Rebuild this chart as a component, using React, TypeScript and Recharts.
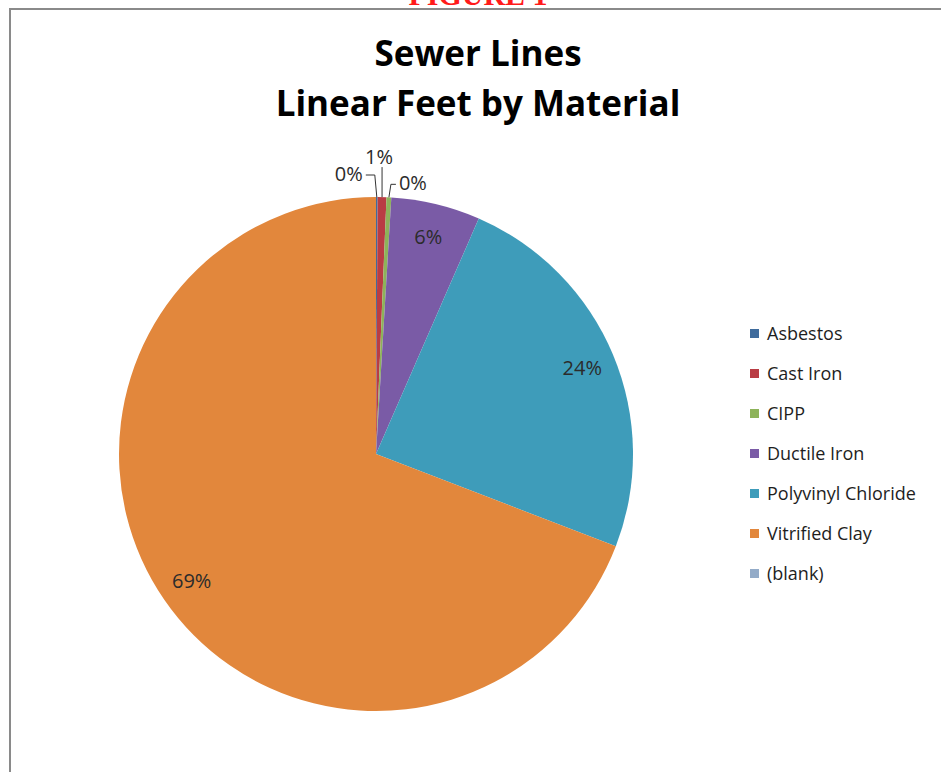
import React from "react";
import { PieChart, Pie, Cell, Legend } from "recharts";

// share of total linear feet, in percent
const materials = [
  "Asbestos",
  "Cast Iron",
  "CIPP",
  "Ductile Iron",
  "Polyvinyl Chloride",
  "Vitrified Clay",
  "(blank)",
];
const shares = [0.1, 0.55, 0.3, 5.6, 24.3, 69.15, 0];
const colors = ["#3f6b9c", "#b93c44", "#8db35a", "#7a5ba6", "#3e9cba", "#e2873c", "#93abc8"];

const data = materials.map((name, i) => ({ name, value: shares[i] }));

const RAD = Math.PI / 180;
const FONT = "'Open Sans', 'Noto Sans', sans-serif";

// tiny slices get an elbow leader out of the top of the pie
const leaderStyle: Record<number, { rise: number; side: number; run: number }> = {
  0: { rise: 22, side: -1, run: 9 },
  1: { rise: 30, side: 0, run: 0 },
  2: { rise: 13, side: 1, run: 5 },
};

function renderLabel(props: any) {
  const { cx, cy, midAngle, outerRadius, percent, index } = props;
  if (materials[index] === "(blank)") return null;
  const text = `${Math.round(percent * 100)}%`;
  const cos = Math.cos(-midAngle * RAD);
  const sin = Math.sin(-midAngle * RAD);
  if (percent >= 0.02) {
    const r = outerRadius * 0.87;
    return (
      <text
        x={cx + r * cos}
        y={cy + r * sin}
        textAnchor="middle"
        dominantBaseline="central"
        fill="#2b2b2b"
        fontSize={20}
        fontFamily={FONT}
      >
        {text}
      </text>
    );
  }
  const s = leaderStyle[index] ?? { rise: 20, side: 1, run: 8 };
  const x0 = cx + outerRadius * cos;
  const y0 = cy + outerRadius * sin;
  const y1 = y0 - s.rise;
  const x1 = x0 + s.side * 2;
  const x2 = x1 + s.side * s.run;
  const anchor = s.side < 0 ? "end" : s.side > 0 ? "start" : "middle";
  return (
    <g>
      <polyline
        points={`${x0},${y0} ${x1},${y1} ${x2},${y1}`}
        fill="none"
        stroke="#333"
        strokeWidth={1}
      />
      <text
        x={s.side === 0 ? x1 - 3 : x2 + s.side * 3}
        y={s.side === 0 ? y1 - 11 : y1 - 2}
        textAnchor={anchor}
        dominantBaseline="central"
        fill="#2b2b2b"
        fontSize={20}
        fontFamily={FONT}
      >
        {text}
      </text>
    </g>
  );
}

function MaterialLegend() {
  return (
    <div style={{ fontFamily: FONT, fontSize: 18, color: "#1e1e1e" }}>
      {materials.map((m, i) => (
        <div key={m} style={{ display: "flex", alignItems: "center", height: 40 }}>
          <span
            style={{
              display: "inline-block",
              width: 9,
              height: 9,
              background: colors[i],
              marginRight: 8,
            }}
          />
          <span>{m}</span>
        </div>
      ))}
    </div>
  );
}

export default function App() {
  return (
    <div
      style={{
        position: "absolute",
        left: 0,
        top: 0,
        width: 941,
        height: 772,
        background: "#fff",
        overflow: "hidden",
      }}
    >
      <div
        style={{
          position: "absolute",
          left: 0,
          top: -20,
          width: 956,
          textAlign: "center",
          fontFamily: "'Liberation Serif', serif",
          fontWeight: "bold",
          fontSize: 30,
          color: "#ff1a1a",
          lineHeight: "30px",
        }}
      >
        FIGURE 1
      </div>
      <div
        style={{
          position: "absolute",
          left: 9,
          top: 8,
          width: 960,
          height: 800,
          borderTop: "2px solid #8a8a8a",
          borderLeft: "2px solid #8a8a8a",
        }}
      />
      <div
        style={{
          position: "absolute",
          left: 0,
          top: 28,
          width: 956,
          textAlign: "center",
          fontFamily: FONT,
          fontWeight: "bold",
          fontSize: 35,
          lineHeight: "50px",
          color: "#000",
        }}
      >
        Sewer Lines
        <br />
        Linear Feet by Material
      </div>
      <div style={{ position: "absolute", left: 0, top: 0 }}>
        <PieChart width={941} height={772}>
          <Pie
            data={data}
            dataKey="value"
            nameKey="name"
            cx={371}
            cy={449}
            outerRadius={257}
            startAngle={90}
            endAngle={-270}
            stroke="none"
            label={renderLabel}
            labelLine={false}
            isAnimationActive={false}
          >
            {data.map((d, i) => (
              <Cell key={d.name} fill={colors[i]} />
            ))}
          </Pie>
          <Legend
            layout="vertical"
            content={() => <MaterialLegend />}
            wrapperStyle={{ position: "absolute", left: 750, top: 313, width: 190 }}
          />
        </PieChart>
      </div>
    </div>
  );
}
